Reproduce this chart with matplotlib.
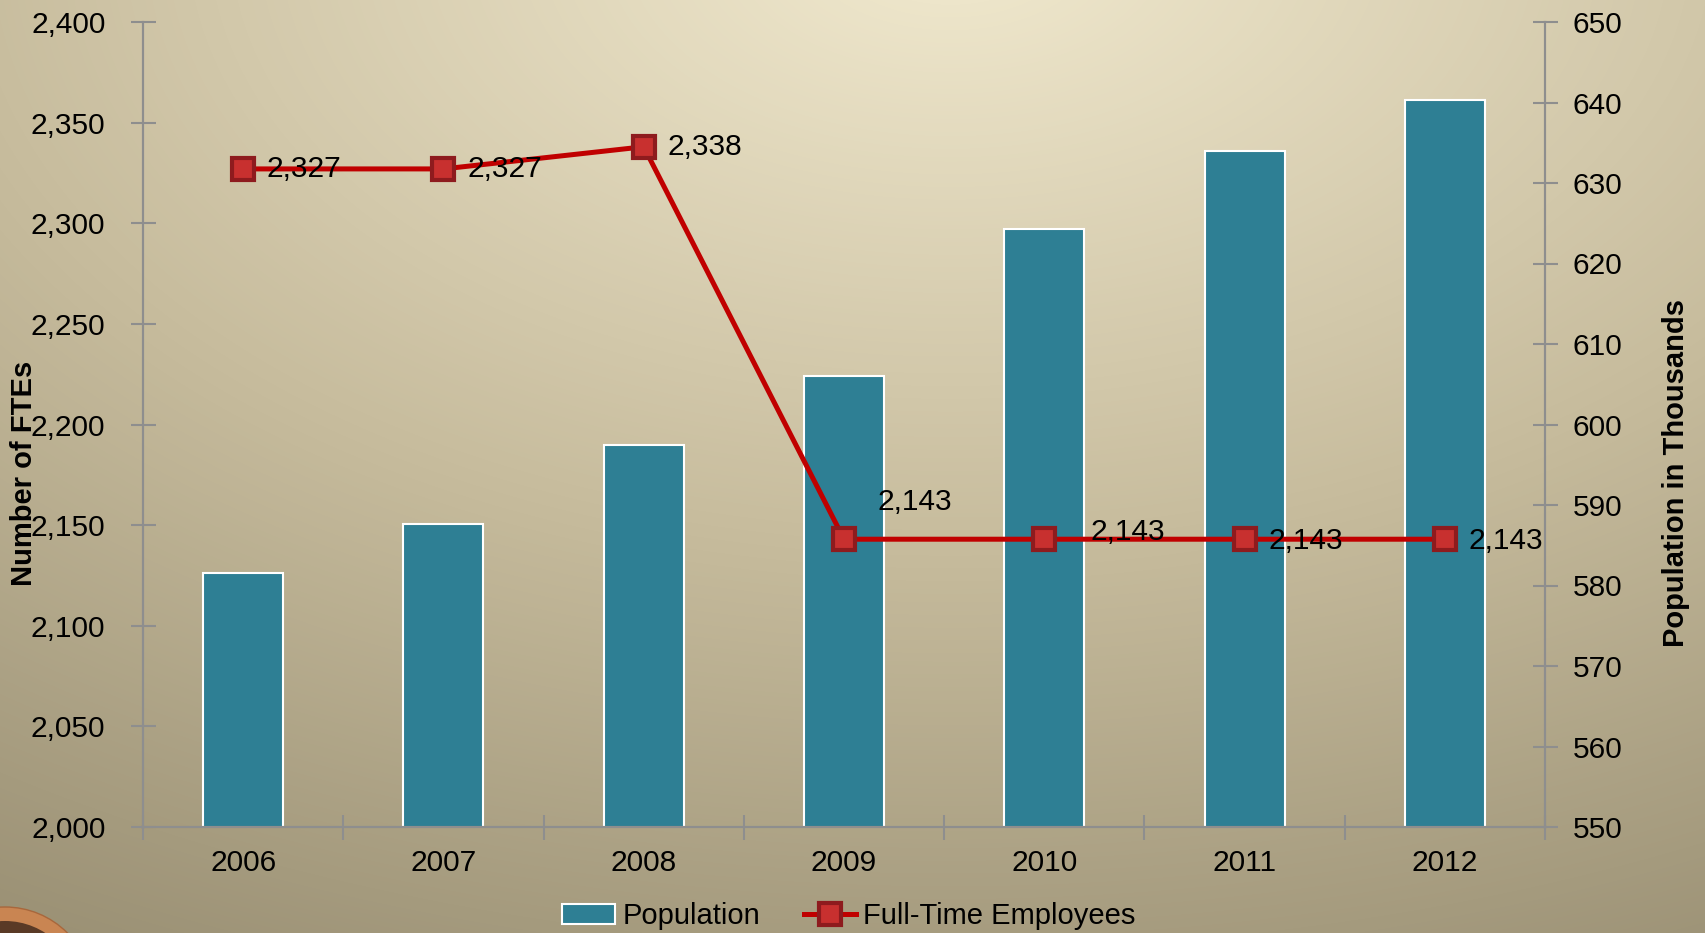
import matplotlib.pyplot as plt
import numpy as np
from matplotlib.colors import LinearSegmentedColormap
from matplotlib.lines import Line2D
from matplotlib.patches import Circle, Patch
from matplotlib.ticker import FuncFormatter, MultipleLocator

plt.rcParams["font.family"] = ["Liberation Sans", "DejaVu Sans"]

# data
years = ["2006", "2007", "2008", "2009", "2010", "2011", "2012"]
population = [581.5, 587.7, 597.4, 606.0, 624.3, 634.0, 640.3]
ftes = [2327, 2327, 2338, 2143, 2143, 2143, 2143]
fte_labels = ["2,327", "2,327", "2,338", "2,143", "2,143", "2,143", "2,143"]

# label offsets in points (layout only)
label_offsets = [(17, 0), (17, 0), (17, 0), (24, 27), (33, 5), (17, -1), (17, -1)]

BAR_COLOR = "#2E7F94"
LINE_COLOR = "#C00000"
MARKER_FACE = "#C8302F"
MARKER_EDGE = "#8E1B1E"
AXIS_COLOR = "#8E8E8E"
FS = 21.5

fig = plt.figure(figsize=(17.06, 9.33), dpi=100)

# gradient backdrop, light spot near the top centre
bg = fig.add_axes([0, 0, 1, 1], zorder=-10)
h, w = 933, 1706
yy, xx = np.mgrid[0:h, 0:w]
d = np.hypot((xx - 950) / w * 1.1, (yy + 60) / h)
t = np.clip((d - 0.05) / (d.max() - 0.05), 0, 1)
cmap = LinearSegmentedColormap.from_list("bg", ["#EDE5CA", "#C7BC9D", "#9A9074"])
bg.imshow(t, cmap=cmap, aspect="auto", extent=[0, w, h, 0], origin="upper")
bg.set_xlim(0, w)
bg.set_ylim(h, 0)
bg.set_axis_off()

# seal peeking in at the lower left corner
bg.add_patch(Circle((5, 995), 88, facecolor="#C98552", edgecolor="#A8673C", linewidth=1))
bg.add_patch(Circle((5, 995), 74, facecolor="#5A3A26", edgecolor="none"))
bg.add_patch(Circle((5, 995), 60, facecolor="#F1E6D0", edgecolor="none"))

ax = fig.add_axes([143 / 1706, 1 - 827 / 933, (1545 - 143) / 1706, (827 - 22) / 933])
ax2 = ax.twinx()
ax.set_zorder(ax2.get_zorder() + 1)
ax.patch.set_visible(False)
ax2.patch.set_visible(False)

x = np.arange(len(years))
ax2.bar(x, population, width=0.4, color=BAR_COLOR, edgecolor="white", linewidth=1.5, zorder=2)
ax2.set_ylim(550, 650)
ax2.yaxis.set_major_locator(MultipleLocator(10))

ax.plot(x, ftes, color=LINE_COLOR, linewidth=3.6, marker="s", markersize=16,
        markerfacecolor=MARKER_FACE, markeredgecolor=MARKER_EDGE, markeredgewidth=3, zorder=3)
for xi, yi, lab, off in zip(x, ftes, fte_labels, label_offsets):
    ax.annotate(lab, (xi, yi), xytext=off, textcoords="offset points",
                ha="left", va="center", fontsize=FS, color="black", zorder=4)

ax.set_ylim(2000, 2400)
ax.set_xlim(-0.5, len(years) - 0.5)
ax.yaxis.set_major_locator(MultipleLocator(50))
ax.yaxis.set_major_formatter(FuncFormatter(lambda v, p: f"{int(v):,}"))

ax.set_xticks(x)
ax.set_xticklabels(years)
ax.set_xticks(np.arange(-0.5, len(years)), minor=True)
ax.tick_params(axis="x", which="major", length=0, pad=16, labelsize=FS)
ax.tick_params(axis="x", which="minor", direction="inout", length=18, width=1.5, color=AXIS_COLOR)
ax.tick_params(axis="y", direction="inout", length=18, width=1.5, color=AXIS_COLOR,
               labelsize=FS, pad=18)
ax2.tick_params(axis="y", direction="inout", length=18, width=1.5, color=AXIS_COLOR,
                labelsize=FS, pad=11)

for a in (ax, ax2):
    a.spines["top"].set_visible(False)
    for side in ("left", "right", "bottom"):
        a.spines[side].set_color(AXIS_COLOR)
        a.spines[side].set_linewidth(1.5)

fig.text(24 / 1706, 0.493, "Number of FTEs", rotation=90, ha="center", va="center",
         fontsize=21, fontweight="bold")
fig.text(1676 / 1706, 0.493, "Population in Thousands", rotation=90, ha="center",
         va="center", fontsize=21, fontweight="bold")

handles = [
    Patch(facecolor=BAR_COLOR, edgecolor="white", linewidth=1.5, label="Population"),
    Line2D([0], [0], color=LINE_COLOR, linewidth=3.6, marker="s", markersize=16,
           markerfacecolor=MARKER_FACE, markeredgecolor=MARKER_EDGE, markeredgewidth=3,
           label="Full-Time Employees"),
]
fig.legend(handles=handles, loc="center", bbox_to_anchor=(0.4977, 0.018), ncol=2,
           frameon=False, fontsize=21, handlelength=1.8, handletextpad=0.25,
           columnspacing=1.5)

fig.savefig("out.png", dpi=100)
